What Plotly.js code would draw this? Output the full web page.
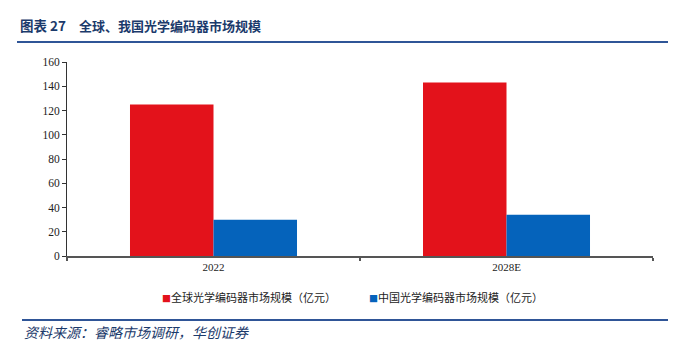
<!DOCTYPE html>
<html>
<head>
<meta charset="utf-8">
<script src="https://cdn.plot.ly/plotly-3.0.1.min.js"></script>
<style>html,body{margin:0;padding:0;background:#fff;}#chart{width:680px;height:341px;}</style>
</head>
<body>
<div id="chart"></div>
<script>
// ---- data ----
const categories = ["2022", "2028E"];
const globalMarket = [125, 143];
const chinaMarket = [30, 34];
const seriesNames = ["全球光学编码器市场规模（亿元）", "中国光学编码器市场规模（亿元）"];
const yTickVals = [0, 20, 40, 60, 80, 100, 120, 140, 160];
const chartTitleNo = "图表 27";
const chartTitle = "全球、我国光学编码器市场规模";
const sourceText = "资料来源：睿略市场调研，华创证券";

// ---- layout helpers ----
const W = 680, H = 341;
const L = 67, R = 653, T = 61.7, B = 256.5;
const px = x => (x - L) / (R - L);
const py = y => (B - y) / (B - T);
const colors = ["#E3121B", "#0563BB"];
const navy = "#1B3A6B";
const lineBlue = "#2F5597";

const traces = [
  {type: "bar", x: categories, y: globalMarket, name: seriesNames[0],
   marker: {color: colors[0], line: {width: 0}}, showlegend: false},
  {type: "bar", x: categories, y: chinaMarket, name: seriesNames[1],
   marker: {color: colors[1], line: {width: 0}}, showlegend: false}
];

const serif = "Liberation Serif, Times New Roman, serif";
const cjk = "Noto Sans CJK SC, sans-serif";

const layout = {
  width: W, height: H,
  margin: {l: L, r: W - R, t: T, b: H - B, pad: 0},
  paper_bgcolor: "#fff", plot_bgcolor: "#fff",
  barmode: "group", bargap: 0.43, bargroupgap: 0,
  showlegend: false,
  xaxis: {type: "category", showline: true, linecolor: "#555", linewidth: 1.5,
          ticks: "outside", tickson: "boundaries", ticklen: 3, tickcolor: "#555",
          tickwidth: 1.5, showgrid: false, zeroline: false,
          tickfont: {family: serif, size: 11, color: "#222"}},
  yaxis: {range: [0, 160], tickvals: yTickVals, showline: true, linecolor: "#333",
          linewidth: 1, ticks: "outside", ticklen: 4, tickcolor: "#333",
          showgrid: false, zeroline: false,
          tickfont: {family: serif, size: 11.5, color: "#222"}},
  shapes: [
    {type: "line", xref: "paper", yref: "paper", x0: px(17), x1: px(668),
     y0: py(41.7), y1: py(41.7), line: {color: lineBlue, width: 2}},
    {type: "line", xref: "paper", yref: "paper", x0: px(22), x1: px(668),
     y0: py(320.7), y1: py(320.7), line: {color: lineBlue, width: 2}}
  ],
  annotations: [
    {xref: "paper", yref: "paper", x: px(18), y: py(25), xanchor: "left", yanchor: "middle",
     showarrow: false, font: {family: cjk, size: 13.5, color: navy},
     text: "<b>" + chartTitleNo + "</b>"},
    {xref: "paper", yref: "paper", x: px(77), y: py(25), xanchor: "left", yanchor: "middle",
     showarrow: false, font: {family: cjk, size: 13, color: navy},
     text: "<b>" + chartTitle + "</b>"},
    {xref: "paper", yref: "paper", x: px(160), y: py(297.5), xanchor: "left", yanchor: "middle",
     showarrow: false, font: {family: cjk, size: 11, color: "#222"},
     text: "<span style='color:" + colors[0] + ";font-size:9px'>■</span>" + seriesNames[0]},
    {xref: "paper", yref: "paper", x: px(367), y: py(297.5), xanchor: "left", yanchor: "middle",
     showarrow: false, font: {family: cjk, size: 11, color: "#222"},
     text: "<span style='color:" + colors[1] + ";font-size:9px'>■</span>" + seriesNames[1]},
    {xref: "paper", yref: "paper", x: px(22), y: py(333), xanchor: "left", yanchor: "middle",
     showarrow: false, font: {family: cjk, size: 14, color: navy},
     text: "<i>" + sourceText + "</i>"}
  ]
};

Plotly.newPlot("chart", traces, layout, {displayModeBar: false, staticPlot: true});
</script>
</body>
</html>
